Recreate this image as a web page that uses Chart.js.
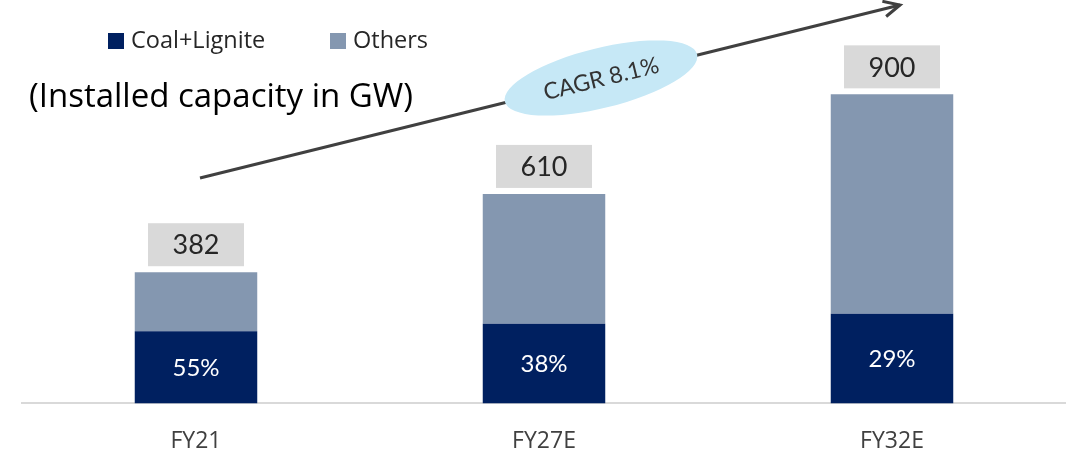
<!DOCTYPE html>
<html>
<head>
<meta charset="utf-8">
<script src="https://cdn.jsdelivr.net/npm/chart.js@4"></script>
<style>
  html, body { margin: 0; padding: 0; background: #fff; }
  #wrap { width: 1066px; height: 454px; }
</style>
</head>
<body>
<div id="wrap"><canvas id="chart-capacity" width="1066" height="454"></canvas></div>
<script>
// Installed capacity (GW), split coal+lignite vs others
const categories = ['FY21', 'FY27E', 'FY32E'];
const coalValues = [210, 232, 261];
const otherValues = [172, 378, 639];
const totalLabels = ['382', '610', '900'];
const coalShareLabels = ['55%', '38%', '29%'];
const cagrLabel = 'CAGR 8.1%';
const titleText = '(Installed capacity in GW)';

const COLORS = {
  coal: '#002060',
  others: '#8497b0',
  box: '#d9d9d9',
  axis: '#d9d9d9',
  text: '#262626',
  arrow: '#404040',
  bubble: '#c6e8f6'
};

// title, legend, growth arrow and the value boxes
const overlay = {
  id: 'overlay',
  afterDatasetsDraw(chart) {
    const ctx = chart.ctx;
    ctx.save();

    // legend
    ctx.font = '23.5px "Open Sans"';
    ctx.textBaseline = 'middle';
    ctx.textAlign = 'left';
    const legendItems = [[108, 0], [330, 1]];
    legendItems.forEach(([x, i]) => {
      const ds = chart.data.datasets[i];
      ctx.fillStyle = ds.backgroundColor;
      ctx.fillRect(x, 33, 16, 16);
      ctx.fillStyle = COLORS.text;
      ctx.fillText(ds.label, x + 23, 41);
    });

    // unit title
    ctx.font = '33px "Open Sans"';
    ctx.fillStyle = '#000';
    ctx.fillText(titleText, 29, 98);

    // growth arrow
    const x0 = 200, y0 = 178, x1 = 900, y1 = 5;
    ctx.strokeStyle = COLORS.arrow;
    ctx.lineWidth = 3;
    ctx.beginPath();
    ctx.moveTo(x0, y0);
    ctx.lineTo(x1, y1);
    ctx.stroke();
    const ang = Math.atan2(y1 - y0, x1 - x0);
    ctx.beginPath();
    ctx.moveTo(x1 - 18 * Math.cos(ang - 0.45), y1 - 18 * Math.sin(ang - 0.45));
    ctx.lineTo(x1, y1);
    ctx.lineTo(x1 - 18 * Math.cos(ang + 0.45), y1 - 18 * Math.sin(ang + 0.45));
    ctx.stroke();

    // CAGR bubble
    ctx.translate(601, 78);
    ctx.rotate(ang);
    ctx.fillStyle = COLORS.bubble;
    ctx.beginPath();
    ctx.ellipse(0, 0, 99, 30, 0, 0, Math.PI * 2);
    ctx.fill();
    ctx.fillStyle = '#333';
    ctx.font = '23px Lato';
    ctx.textAlign = 'center';
    ctx.fillText(cagrLabel, 0, 1);
    ctx.setTransform(1, 0, 0, 1, 0, 0);

    // total boxes above stacks and coal share inside
    const top = chart.getDatasetMeta(1).data;
    const bottom = chart.getDatasetMeta(0).data;
    ctx.textAlign = 'center';
    top.forEach((bar, i) => {
      const w = 96, h = 43;
      const by = bar.y - 6 - h;
      ctx.fillStyle = COLORS.box;
      ctx.fillRect(bar.x - w / 2, by, w, h);
      ctx.fillStyle = COLORS.text;
      ctx.font = '27px Lato';
      ctx.fillText(totalLabels[i], bar.x, by + h / 2 + 1);

      const cb = bottom[i];
      ctx.fillStyle = '#fff';
      ctx.font = '24px Lato';
      ctx.fillText(coalShareLabels[i], cb.x, (cb.y + cb.base) / 2 + 1);
    });

    ctx.restore();
  }
};

new Chart(document.getElementById('chart-capacity'), {
  type: 'bar',
  data: {
    labels: categories,
    datasets: [
      {
        label: 'Coal+Lignite',
        data: coalValues,
        backgroundColor: COLORS.coal,
        barPercentage: 0.352,
        categoryPercentage: 1
      },
      {
        label: 'Others',
        data: otherValues,
        backgroundColor: COLORS.others,
        barPercentage: 0.352,
        categoryPercentage: 1
      }
    ]
  },
  options: {
    responsive: false,
    animation: false,
    layout: { padding: { top: 60, left: 22, right: -3, bottom: -25 } },
    plugins: {
      legend: { display: false },
      tooltip: { enabled: false }
    },
    scales: {
      x: {
        stacked: true,
        grid: { display: false, drawTicks: false },
        border: { display: true, color: COLORS.axis, width: 2 },
        ticks: {
          color: '#404040',
          padding: 24,
          font: { family: '"Liberation Sans Narrow", "Open Sans"', size: 23 }
        }
      },
      y: {
        stacked: true,
        display: false,
        min: 0,
        max: 1000
      }
    }
  },
  plugins: [overlay]
});
</script>
</body>
</html>
